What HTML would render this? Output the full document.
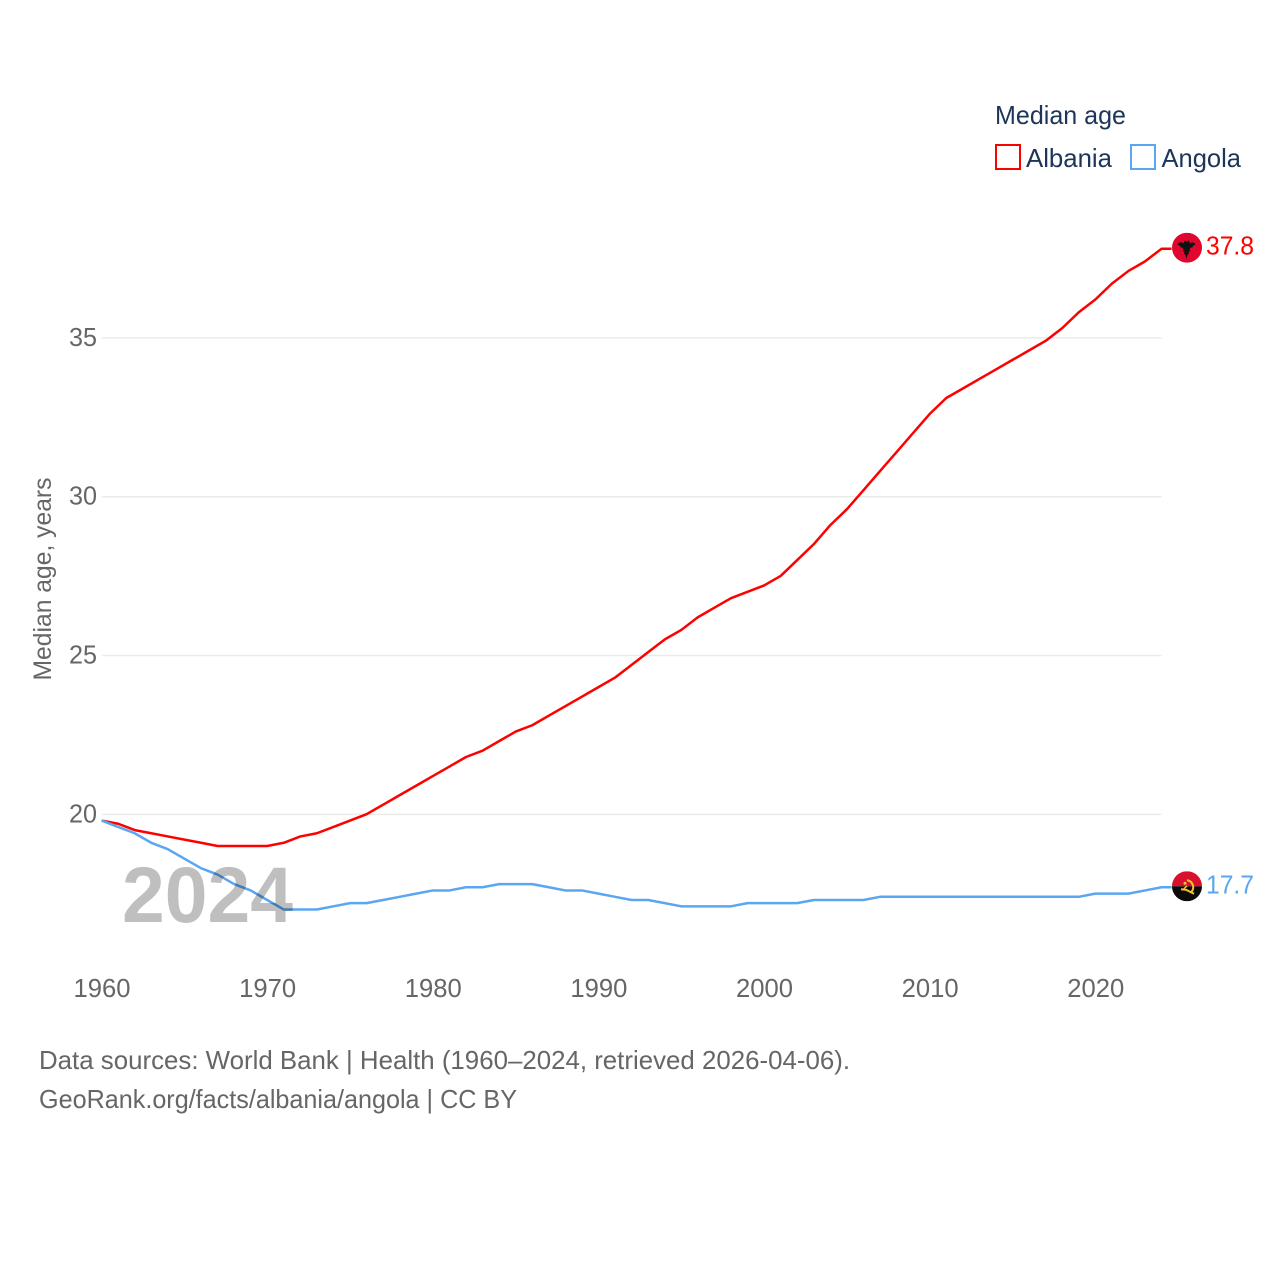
<!DOCTYPE html>
<html lang="en">
<head>
<meta charset="utf-8">
<title>Median age: Albania and Angola</title>
<style>
html,body{margin:0;padding:0;background:#fff;width:1280px;height:1280px;overflow:hidden}
svg{display:block}
text{font-family:"Liberation Sans",sans-serif}
</style>
</head>
<body>
<svg id="chart" xmlns="http://www.w3.org/2000/svg" width="1280" height="1280" viewBox="0 0 1280 1280">
  <defs>
    <clipPath id="clip-al"><circle cx="1187" cy="247.500" r="15"/></clipPath>
    <clipPath id="clip-ao"><circle cx="1187" cy="886.500" r="15"/></clipPath>
  </defs>
  <rect width="1280" height="1280" fill="#fff"/>
  <g id="grid"></g>
  <g id="yticks"></g>
  <g id="xticks"></g>
  <text transform="translate(51,579) rotate(-90)" text-anchor="middle" font-size="25" fill="#666" textLength="203" lengthAdjust="spacingAndGlyphs">Median age, years</text>
  <g id="series"></g>
  <text id="year-label" x="122" y="922" font-size="79" font-weight="700" fill="#000" fill-opacity="0.25" textLength="171" lengthAdjust="spacingAndGlyphs"></text>
  <g id="flag-albania" clip-path="url(#clip-al)">
    <rect x="1172" y="232.500" width="30" height="30" fill="#e0062f"/>
    <path fill="#111" d="M1185 240l2 1.500 2-1.500 .5 3 2-1 3 .5 1 2-2 .5-1 2-2 .5-1 2 1 1.500-2 .5 .5 2-1.500 1-1 4-1-4-1.500-1 .5-2-2-.5 1-1.500-1-2-2-.5-1-2-2-.5 1-2 3-.5 2 1z"/>
  </g>
  <g id="flag-angola" clip-path="url(#clip-ao)">
    <rect x="1172" y="871.500" width="30" height="15" fill="#d8112f"/>
    <rect x="1172" y="886.500" width="30" height="15" fill="#0b0b0b"/>
    <path fill="none" stroke="#f5c52c" stroke-width="2" d="M1187 880.500a7 7 0 0 1 4.500 11.500"/>
    <path fill="none" stroke="#f5c52c" stroke-width="2" d="M1181 889.500l5 .5 8 4"/>
    <path fill="none" stroke="#f5c52c" stroke-width="1.500" d="M1187 886l-3 3"/>
    <circle cx="1185" cy="883.500" r="1.500" fill="#f5c52c"/>
  </g>
  <g id="end-labels"></g>
  <g id="legend">
    <text x="995" y="124" font-size="26" fill="#1d3557" textLength="131" lengthAdjust="spacingAndGlyphs">Median age</text>
    <g>
      <rect x="996" y="145" width="24" height="24" fill="none" stroke="#ff0000" stroke-width="2"/>
      <text x="1026" y="167" font-size="26" fill="#1d3557" textLength="86" lengthAdjust="spacingAndGlyphs">Albania</text>
    </g>
    <g>
      <rect x="1131" y="145" width="24" height="24" fill="none" stroke="#5ba6f0" stroke-width="2"/>
      <text x="1161.500" y="167" font-size="26" fill="#1d3557" textLength="79.500" lengthAdjust="spacingAndGlyphs">Angola</text>
    </g>
  </g>
  <g>
    <text x="39" y="1069" font-size="26" fill="#666" textLength="811" lengthAdjust="spacingAndGlyphs">Data sources: World Bank | Health (1960–2024, retrieved 2026-04-06).</text>
    <text x="39" y="1108" font-size="26" fill="#666" textLength="478" lengthAdjust="spacingAndGlyphs">GeoRank.org/facts/albania/angola | CC BY</text>
  </g>
</svg>
<script>
const startYear = 1960;
const xTickYears = [1960, 1970, 1980, 1990, 2000, 2010, 2020];
const yTickValues = [20, 25, 30, 35];
const albaniaValues = [19.8,19.7,19.5,19.4,19.3,19.2,19.1,19.0,19.0,19.0,19.0,19.1,19.3,19.4,19.6,19.8,20.0,20.3,20.6,20.9,21.2,21.5,21.8,22.0,22.3,22.6,22.8,23.1,23.4,23.7,24.0,24.3,24.7,25.1,25.5,25.8,26.2,26.5,26.8,27.0,27.2,27.5,28.0,28.5,29.1,29.6,30.2,30.8,31.4,32.0,32.6,33.1,33.4,33.7,34.0,34.3,34.6,34.9,35.3,35.8,36.2,36.7,37.1,37.4,37.8];
const angolaValues = [19.8,19.6,19.4,19.1,18.9,18.6,18.3,18.1,17.8,17.6,17.3,17.0,17.0,17.0,17.1,17.2,17.2,17.3,17.4,17.5,17.6,17.6,17.7,17.7,17.8,17.8,17.8,17.7,17.6,17.6,17.5,17.4,17.3,17.3,17.2,17.1,17.1,17.1,17.1,17.2,17.2,17.2,17.2,17.3,17.3,17.3,17.3,17.4,17.4,17.4,17.4,17.4,17.4,17.4,17.4,17.4,17.4,17.4,17.4,17.4,17.5,17.5,17.5,17.6,17.7];

const NS = 'http://www.w3.org/2000/svg';
function xScale(year) { return 101.6 + (year - 1960) * 16.5625; }
function yScale(value) { return 814.2 - (value - 20) * 31.77; }
function make(tag, attrs, parent, content) {
  const el = document.createElementNS(NS, tag);
  for (const k in attrs) el.setAttribute(k, attrs[k]);
  if (content !== undefined) el.textContent = content;
  parent.appendChild(el);
  return el;
}
const gridG = document.getElementById('grid');
const yG = document.getElementById('yticks');
const xG = document.getElementById('xticks');
const seriesG = document.getElementById('series');
const endG = document.getElementById('end-labels');
const endX = xScale(startYear + albaniaValues.length - 1);

yTickValues.forEach(function (v) {
  const line = make('line', {x1: 102, x2: endX, y1: yScale(v) + 0.2, y2: yScale(v) + 0.2, stroke: '#ebebeb', 'stroke-width': 1.5}, gridG);
  
  
  const label = make('text', {x: 97, y: yScale(v) + 8.2, 'text-anchor': 'end', 'font-size': 26, fill: '#666', textLength: 28, lengthAdjust: 'spacingAndGlyphs'}, yG, String(v));
  
  
});
xTickYears.forEach(function (yr) {
  const label = make('text', {x: xScale(yr) + 0.4, y: 997, 'text-anchor': 'middle', 'font-size': 26, fill: '#666', textLength: 57, lengthAdjust: 'spacingAndGlyphs'}, xG, String(yr));
  
  
});
function drawSeries(values, color, key) {
  let d = values.map(function (v, i) {
    return (i ? 'L' : 'M') + xScale(startYear + i).toFixed(2) + ' ' + yScale(v).toFixed(2);
  }).join(' ');
  const lastY = yScale(values[values.length - 1]);
  d += ' L' + (endX + 10) + ' ' + lastY.toFixed(2);
  const path = make('path', {d: d, fill: 'none', stroke: color, 'stroke-width': 2.5, 'stroke-linejoin': 'round'}, seriesG);
  
  
  const text = make('text', {x: 1206, y: lastY + 6, 'font-size': 26, fill: color, textLength: 48, lengthAdjust: 'spacingAndGlyphs'}, endG, values[values.length - 1].toFixed(1));
  
  
  return lastY;
}
function placeFlag(id, baseY, lastY) {
  document.getElementById(id).setAttribute('transform', 'translate(0,' + (lastY - 1 - baseY).toFixed(2) + ')');
}
const albaniaLastY = drawSeries(albaniaValues, '#ff0000', 'albania');
const angolaLastY = drawSeries(angolaValues, '#5ba6f0', 'angola');
placeFlag('flag-albania', 247.5, albaniaLastY);
placeFlag('flag-angola', 886.5, angolaLastY);
document.getElementById('year-label').textContent = String(startYear + albaniaValues.length - 1);
</script>
</body>
</html>
